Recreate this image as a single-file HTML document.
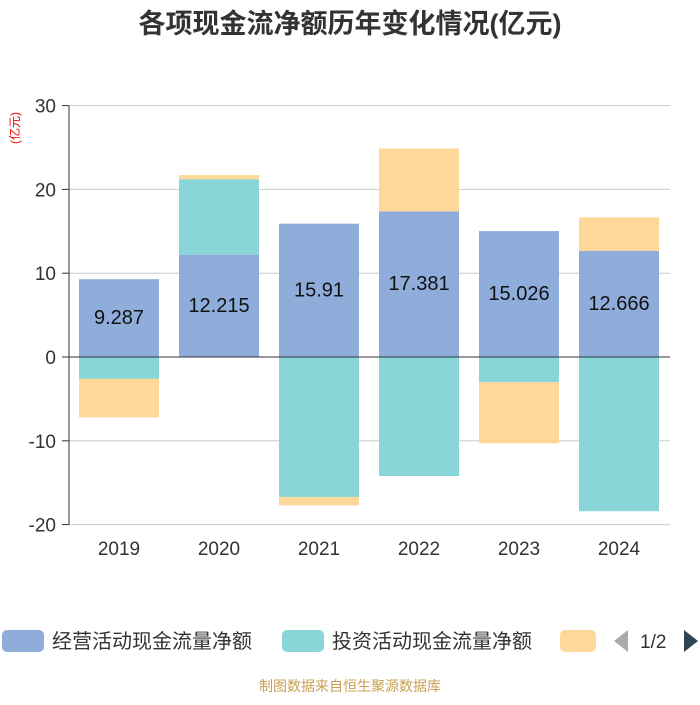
<!DOCTYPE html>
<html><head><meta charset="utf-8">
<style>
body{margin:0;background:#fff;width:700px;height:700px;overflow:hidden;font-family:"Liberation Sans","Noto Sans CJK SC",sans-serif;}
</style></head>
<body>
<svg id="chart" width="700" height="700" xmlns="http://www.w3.org/2000/svg">
<text x="350" y="33" text-anchor="middle" font-size="27" font-weight="bold" fill="#333" font-family="Liberation Sans,Noto Sans CJK SC,sans-serif">各项现金流净额历年变化情况(亿元)</text>
<text transform="translate(19,128) rotate(-90)" text-anchor="middle" font-size="12" fill="#e00" font-family="Liberation Sans,Noto Sans CJK SC,sans-serif">(亿元)</text>
<g id="grid"></g><g id="bars"></g><g id="axes"></g>
<g>
<rect x="2" y="630" width="42" height="22" rx="5" fill="#8eaddb"/>
<text x="52" y="648" font-size="20" fill="#333" font-family="Liberation Sans,Noto Sans CJK SC,sans-serif">经营活动现金流量净额</text>
<rect x="282" y="630" width="42" height="22" rx="5" fill="#88d6d8"/>
<text x="332" y="648" font-size="20" fill="#333" font-family="Liberation Sans,Noto Sans CJK SC,sans-serif">投资活动现金流量净额</text>
<rect x="560" y="630" width="36" height="22" rx="5" fill="#fdd899"/>
<polygon points="628,630 628,652 614,641" fill="#aaa"/>
<text x="640" y="648" font-size="19" fill="#333">1/2</text>
<polygon points="684,630 684,652 698,641" fill="#2f4554"/>
</g>
<text x="350" y="691" text-anchor="middle" font-size="14" fill="#c8a050" font-family="Liberation Sans,Noto Sans CJK SC,sans-serif">制图数据来自恒生聚源数据库</text>
</svg>
<script>
const categories=["2019","2020","2021","2022","2023","2024"];
const operating=[9.287,12.215,15.91,17.381,15.026,12.666];
const investing=[-2.6,9.0,-16.7,-14.2,-3.0,-18.4];
const financing=[-4.6,0.5,-1.0,7.5,-7.3,4.0];
const yTicks=[30,20,10,0,-10,-20];
const NS="http://www.w3.org/2000/svg";
const x0=69,bandW=100,barW=80;
function y(v){return 357-v*8.38;}
function bx(i){return x0+i*bandW+(bandW-barW)/2;}
const grid=document.getElementById('grid'),bars=document.getElementById('bars'),axes=document.getElementById('axes');
yTicks.forEach(t=>{
 const l=document.createElementNS(NS,'line');
 l.setAttribute('x1',69);l.setAttribute('x2',670);l.setAttribute('y1',y(t));l.setAttribute('y2',y(t));
 l.setAttribute('stroke',t===0?'#333':'#ccc');l.setAttribute('stroke-width',1);
 
 
 (t===0?axes:grid).appendChild(l);
 const tk=document.createElementNS(NS,'line');
 tk.setAttribute('x1',62);tk.setAttribute('x2',69);tk.setAttribute('y1',y(t));tk.setAttribute('y2',y(t));tk.setAttribute('stroke','#333');
 
 
 axes.appendChild(tk);
 const tx=document.createElementNS(NS,'text');
 tx.setAttribute('x',56);tx.setAttribute('y',y(t)+7);tx.setAttribute('text-anchor','end');tx.setAttribute('font-size',19);tx.setAttribute('fill','#333');
 tx.textContent=t;
 
 
 axes.appendChild(tx);
});
const ya=document.createElementNS(NS,'line');
ya.setAttribute('x1',69);ya.setAttribute('x2',69);ya.setAttribute('y1',y(30));ya.setAttribute('y2',y(-20));ya.setAttribute('stroke','#333');


axes.appendChild(ya);
function rect(x,v0,v1,color,name){
 const r=document.createElementNS(NS,'rect');
 const a=y(v0),b=y(v1);
 r.setAttribute('x',x);r.setAttribute('width',barW);r.setAttribute('y',Math.min(a,b));r.setAttribute('height',Math.abs(a-b));r.setAttribute('fill',color);
 
 
 bars.appendChild(r);
}
categories.forEach((c,i)=>{
 let pos=0,neg=0;
 [[operating,'#8eaddb','bar-operating-'],[investing,'#88d6d8','bar-investing-'],[financing,'#fdd899','bar-financing-']].forEach(([arr,col,nm])=>{
  const v=arr[i];
  if(v>=0){rect(bx(i),pos,pos+v,col,nm+c);pos+=v;}else{rect(bx(i),neg,neg+v,col,nm+c);neg+=v;}
 });
 const lb=document.createElementNS(NS,'text');
 lb.setAttribute('x',bx(i)+barW/2);lb.setAttribute('y',y(operating[i]/2)+6);lb.setAttribute('text-anchor','middle');lb.setAttribute('font-size',20);lb.setAttribute('fill','#111');
 lb.textContent=operating[i];
 
 
 bars.appendChild(lb);
 const xl=document.createElementNS(NS,'text');
 xl.setAttribute('x',x0+i*bandW+bandW/2);xl.setAttribute('y',555);xl.setAttribute('text-anchor','middle');xl.setAttribute('font-size',19);xl.setAttribute('fill','#333');
 xl.textContent=c;
 
 
 axes.appendChild(xl);
});
</script>
</body></html>
